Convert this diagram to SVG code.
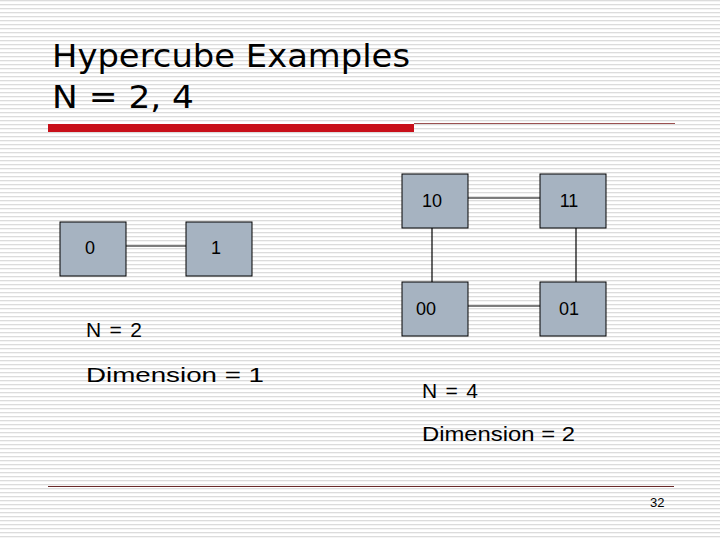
<svg xmlns="http://www.w3.org/2000/svg" width="720" height="540" viewBox="0 0 720 540">
<defs>
<pattern id="st" width="4" height="4" patternUnits="userSpaceOnUse"><rect width="4" height="4" fill="#fff"/><rect y="0" width="4" height="1.3" fill="#dcdcdc"/></pattern>
<style>
.n{fill:#a6b3c1;stroke:#000;stroke-width:1}
.t{font-family:"DejaVu Sans","Liberation Sans",sans-serif;fill:#000}
.a{font-family:"Liberation Sans",Arial,sans-serif;fill:#000}
.c{stroke:#000;stroke-width:1.2;fill:none}
</style>
</defs>
<rect width="720" height="540" fill="url(#st)"/>
<text class="t" x="52" y="67" font-size="32" textLength="358" lengthAdjust="spacingAndGlyphs">Hypercube Examples</text>
<text class="t" x="52" y="108" font-size="32" textLength="142" lengthAdjust="spacingAndGlyphs">N = 2, 4</text>
<rect x="48" y="124" width="366" height="8" fill="#c8101a"/>
<line x1="414" y1="123.5" x2="675" y2="123.5" stroke="#9a5050" stroke-width="1"/>
<line x1="48" y1="486.5" x2="674" y2="486.5" stroke="#6a2a2a" stroke-width="1"/>
<g id="connectors">
<line class="c" x1="126" y1="246" x2="186" y2="246"/>
<line class="c" x1="468" y1="198" x2="540" y2="198"/>
<line class="c" x1="468" y1="306" x2="540" y2="306"/>
<line class="c" x1="432" y1="228" x2="432" y2="282"/>
<line class="c" x1="576" y1="228" x2="576" y2="282"/>
</g>
<g id="n0"><rect class="n" x="60" y="222" width="66" height="54"/><text class="a" x="90" y="254" font-size="18" text-anchor="middle">0</text></g>
<g id="n1"><rect class="n" x="186" y="222" width="66" height="54"/><text class="a" x="216" y="254" font-size="18" text-anchor="middle">1</text></g>
<g id="n10"><rect class="n" x="402" y="174" width="66" height="54"/><text class="a" x="432" y="207" font-size="18" text-anchor="middle">10</text></g>
<g id="n11"><rect class="n" x="540" y="174" width="66" height="54"/><text class="a" x="569" y="207" font-size="18" text-anchor="middle">11</text></g>
<g id="n00"><rect class="n" x="402" y="282" width="66" height="54"/><text class="a" x="426" y="315" font-size="18" text-anchor="middle">00</text></g>
<g id="n01"><rect class="n" x="540" y="282" width="66" height="54"/><text class="a" x="569" y="315" font-size="18" text-anchor="middle">01</text></g>
<text class="a" x="86" y="337" font-size="21" textLength="56">N = 2</text>
<text class="a" x="86" y="382" font-size="21" textLength="178" lengthAdjust="spacingAndGlyphs">Dimension = 1</text>
<text class="a" x="422" y="398" font-size="21" textLength="56">N = 4</text>
<text class="a" x="422" y="441" font-size="21" textLength="153" lengthAdjust="spacingAndGlyphs">Dimension = 2</text>
<text class="a" x="650" y="507" font-size="13">32</text>
</svg>
